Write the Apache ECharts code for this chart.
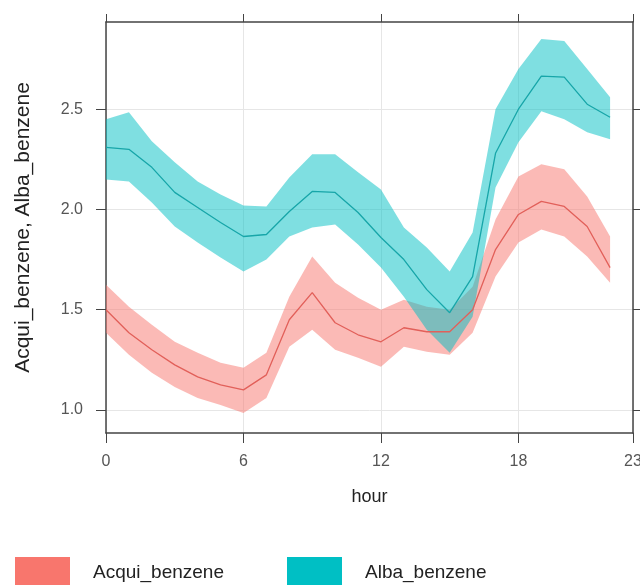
<!DOCTYPE html>
<html>
<head>
<meta charset="utf-8">
<script src="https://cdn.jsdelivr.net/npm/echarts@6/dist/echarts.min.js"></script>
<style>
  html, body { margin: 0; padding: 0; background: #fff; }
  #chart { width: 640px; height: 585px; }
</style>
</head>
<body>
<div id="chart"></div>
<script>
// hourly means with confidence band
var hours = ['0','1','2','3','4','5','6','7','8','9','10','11','12','13','14','15','16','17','18','19','20','21','22','23'];
var acquiMean = [1.50,1.385,1.30,1.225,1.165,1.125,1.10,1.175,1.45,1.585,1.435,1.375,1.34,1.41,1.39,1.39,1.50,1.80,1.975,2.04,2.015,1.915,1.71];
var acquiLow  = [1.385,1.275,1.185,1.115,1.06,1.025,0.985,1.06,1.315,1.40,1.30,1.26,1.215,1.315,1.29,1.275,1.385,1.665,1.835,1.90,1.865,1.765,1.635];
var acquiHigh = [1.625,1.515,1.425,1.34,1.285,1.235,1.21,1.285,1.565,1.765,1.635,1.56,1.50,1.55,1.515,1.50,1.615,1.95,2.165,2.225,2.20,2.065,1.865];
var albaMean = [2.31,2.30,2.21,2.085,2.01,1.935,1.865,1.875,1.99,2.09,2.085,1.985,1.86,1.75,1.60,1.485,1.665,2.28,2.50,2.665,2.66,2.525,2.46];
var albaLow  = [2.15,2.14,2.035,1.915,1.835,1.76,1.69,1.75,1.865,1.91,1.925,1.825,1.71,1.565,1.40,1.285,1.465,2.11,2.335,2.49,2.45,2.385,2.35];
var albaHigh = [2.45,2.485,2.34,2.235,2.14,2.075,2.02,2.015,2.16,2.275,2.275,2.185,2.10,1.91,1.81,1.69,1.885,2.50,2.70,2.85,2.84,2.70,2.56];
var xTicks = [0, 6, 12, 18, 23];
var yTicks = [1.0, 1.5, 2.0, 2.5];

var names = ['Acqui_benzene', 'Alba_benzene'];
var fills = ['#F8766D', '#00BFC4'];
var lines = ['#E2605A', '#17A6A9'];

function diffs(hi, lo) {
    return hi.map(function (v, i) { return +(v - lo[i]).toFixed(4); });
}
function atTick(i) { return xTicks.indexOf(i) >= 0; }

function band(idx, lo, hi, mean) {
    var stack = 'band' + idx;
    return [
        {
            name: names[idx] + '_lo', type: 'line', stack: stack, data: lo,
            symbol: 'none', silent: true, lineStyle: { opacity: 0 }
        },
        {
            name: names[idx] + '_band', type: 'line', stack: stack, data: diffs(hi, lo),
            symbol: 'none', silent: true, lineStyle: { opacity: 0 },
            areaStyle: { color: fills[idx], opacity: 0.5 }
        },
        {
            name: names[idx], type: 'line', data: mean, symbol: 'none',
            lineStyle: { color: lines[idx], width: 1.3 }, itemStyle: { color: fills[idx] }
        }
    ];
}

var axisLine = { show: true, lineStyle: { color: '#444', width: 1.5 } };
var gridLine = { show: true, lineStyle: { color: '#e6e6e6', width: 1 } };
var font = 'Liberation Sans, Arial, sans-serif';

var chart = echarts.init(document.getElementById('chart'));
var option = {
    animation: false,
    grid: { left: 106, right: 7, top: 22, bottom: 152, containLabel: false, outerBoundsMode: 'none' },
    xAxis: [
        {
            type: 'category', data: hours, boundaryGap: false, position: 'bottom',
            name: 'hour', nameLocation: 'middle', nameGap: 55,
            nameTextStyle: { color: '#222', fontSize: 18, fontFamily: font },
            axisLine: axisLine,
            axisTick: { show: true, inside: false, length: 10, interval: function (i) { return atTick(i); }, lineStyle: { color: '#444' } },
            axisLabel: { interval: function (i) { return atTick(i); }, margin: 21, color: '#555', fontSize: 16, fontFamily: font },
            splitLine: { show: true, interval: function (i) { return atTick(i); }, lineStyle: gridLine.lineStyle }
        },
        {
            type: 'category', data: hours, boundaryGap: false, position: 'top',
            axisLine: axisLine,
            axisTick: { show: true, inside: false, length: 8, interval: function (i) { return atTick(i); }, lineStyle: { color: '#444' } },
            axisLabel: { show: false },
            splitLine: { show: false }
        }
    ],
    yAxis: [
        {
            type: 'value', min: 0.885, max: 2.935, position: 'left',
            name: 'Acqui_benzene, Alba_benzene', nameLocation: 'middle', nameGap: 72,
            nameTextStyle: { color: '#222', fontSize: 21, fontFamily: font },
            axisLine: axisLine,
            axisTick: { show: true, inside: false, length: 10, customValues: yTicks, lineStyle: { color: '#444' } },
            axisLabel: {
                customValues: yTicks, margin: 23, color: '#555', fontSize: 16, fontFamily: font,
                formatter: function (v) { return v.toFixed(1); }
            },
            splitLine: gridLine
        },
        {
            type: 'value', min: 0.885, max: 2.935, position: 'right',
            axisLine: axisLine,
            axisTick: { show: true, inside: false, length: 7, customValues: yTicks, lineStyle: { color: '#444' } },
            axisLabel: { show: false },
            splitLine: { show: false }
        }
    ],
    legend: {
        left: 15, top: 557, padding: 0, itemWidth: 55, itemHeight: 32, itemGap: 63,
        icon: 'rect',
        data: [
            { name: names[0], itemStyle: { color: fills[0], opacity: 1 } },
            { name: names[1], itemStyle: { color: fills[1], opacity: 1 } }
        ],
        textStyle: { color: '#222', fontSize: 19, fontFamily: font, padding: [0, 0, 0, 18] }
    },
    series: band(0, acquiLow, acquiHigh, acquiMean).concat(band(1, albaLow, albaHigh, albaMean))
};
chart.setOption(option);
</script>
</body>
</html>
